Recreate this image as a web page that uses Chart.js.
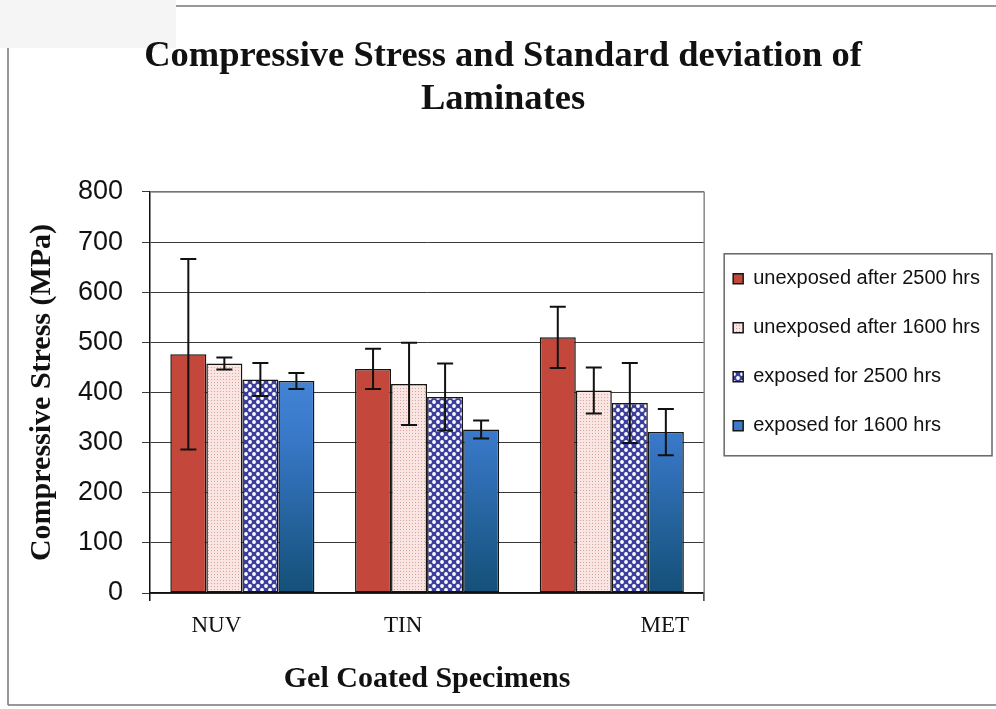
<!DOCTYPE html>
<html>
<head>
<meta charset="utf-8">
<script src="https://cdn.jsdelivr.net/npm/chart.js@4.4.0/dist/chart.umd.min.js"></script>
<style>
html,body{margin:0;padding:0;background:#fff;}
#wrap{width:996px;height:709px;position:relative;}
</style>
</head>
<body>
<div id="wrap"><canvas id="c" width="996" height="709"></canvas></div>
<script>
// ---- data ----
const categories = ['NUV', 'TIN', 'MET'];
const seriesNames = ['unexposed after 2500 hrs', 'unexposed after 1600 hrs', 'exposed for 2500 hrs', 'exposed for 1600 hrs'];
const unexposed2500 = [476, 447, 510];
const unexposed1600 = [458, 417, 404];
const exposed2500 = [426, 391, 379];
const exposed1600 = [423, 326, 321];
const unexposed2500Sd = [190, 40, 61];
const unexposed1600Sd = [12, 82, 46];
const exposed2500Sd = [33, 67, 80];
const exposed1600Sd = [16, 18, 46];
const yMin = 0, yMax = 800, yStep = 100;

// ---- styles ----
const xLabelNudge = [-26, -24, 53];
const canvas = document.getElementById('c');
const ctx0 = canvas.getContext('2d');

function pinkDots() {
  const c = document.createElement('canvas'); c.width = 3; c.height = 3;
  const g = c.getContext('2d');
  g.fillStyle = '#F9E6E2'; g.fillRect(0, 0, 3, 3);
  g.fillStyle = '#D9A3A0'; g.fillRect(1, 1, 1, 1);
  return ctx0.createPattern(c, 'repeat');
}
function checker() {
  const c = document.createElement('canvas'); c.width = 8; c.height = 8;
  const g = c.getContext('2d');
  g.fillStyle = '#3B3E9C'; g.fillRect(0, 0, 8, 8);
  g.fillStyle = '#FFFFFF';
  g.beginPath(); g.arc(2, 2, 1.9, 0, Math.PI * 2); g.fill();
  g.beginPath(); g.arc(6, 6, 1.9, 0, Math.PI * 2); g.fill();
  return ctx0.createPattern(c, 'repeat');
}
let blueGrad = null, blueKey = '';
function blueFill(context) {
  const chart = context.chart;
  const a = chart.chartArea;
  if (!a) return '#2F6DB5';
  const key = a.top + ':' + a.bottom;
  if (!blueGrad || key !== blueKey) {
    const g = chart.ctx.createLinearGradient(0, a.top + 150, 0, a.bottom);
    g.addColorStop(0, '#4A8CE0');
    g.addColorStop(0.4, '#3777C6');
    g.addColorStop(1, '#145078');
    blueGrad = g; blueKey = key;
  }
  return blueGrad;
}

const errorBars = {
  id: 'errorBars',
  afterDatasetsDraw(chart) {
    const y = chart.scales.y, ctx = chart.ctx;
    ctx.save();
    ctx.strokeStyle = '#111';
    ctx.lineWidth = 2;
    chart.data.datasets.forEach((ds, di) => {
      const meta = chart.getDatasetMeta(di);
      meta.data.forEach((bar, i) => {
        const v = ds.data[i], e = ds.errors[i];
        const yt = y.getPixelForValue(v + e), yb = y.getPixelForValue(v - e);
        const x = bar.x;
        ctx.beginPath();
        ctx.moveTo(x, yt); ctx.lineTo(x, yb);
        ctx.moveTo(x - 8, yt); ctx.lineTo(x + 8, yt);
        ctx.moveTo(x - 8, yb); ctx.lineTo(x + 8, yb);
        ctx.stroke();
      });
    });
    ctx.restore();
  }
};

const frame = {
  id: 'frame',
  beforeLayout(chart) {
    const lg = chart.legend;
    if (lg && !lg._wide) {
      const origFit = lg.fit.bind(lg);
      lg.fit = function () { this.maxWidth = Math.max(this.maxWidth, 300); origFit(); };
      lg._wide = true;
    }
  },
  beforeDraw(chart) {
    const ctx = chart.ctx;
    ctx.save();
    ctx.fillStyle = '#fff';
    ctx.fillRect(0, 0, chart.width, chart.height);
    ctx.strokeStyle = '#777';
    ctx.lineWidth = 1.5;
    ctx.beginPath();
    ctx.moveTo(80, 6); ctx.lineTo(chart.width, 6);
    ctx.moveTo(8, 10); ctx.lineTo(8, 705);
    ctx.moveTo(8, 705); ctx.lineTo(chart.width, 705);
    ctx.stroke();
    ctx.fillStyle = '#F5F5F5';
    ctx.fillRect(0, 0, 176, 48);
    ctx.restore();
    // nudge x category labels
    const s = chart.scales.x;
    const items = s.getLabelItems(chart.chartArea);
    items.forEach((it, i) => {
      if (!it._nudged) { it.options.translation[0] += xLabelNudge[i] || 0; it._nudged = true; }
    });
  },
  afterDraw(chart) {
    const ctx = chart.ctx, a = chart.chartArea;
    ctx.save();
    ctx.strokeStyle = '#888';
    ctx.lineWidth = 1.5;
    ctx.beginPath();
    ctx.moveTo(a.right, a.top); ctx.lineTo(a.right, a.bottom + 8);
    ctx.moveTo(a.left, a.top); ctx.lineTo(a.right, a.top);
    ctx.stroke();
    const hb = chart.legend.legendHitBoxes;
    if (hb && hb.length) {
      const first = hb[0], last = hb[hb.length - 1];
      const maxW = Math.max(...hb.map(h => h.width));
      ctx.strokeStyle = '#666';
      ctx.lineWidth = 1.5;
      ctx.strokeRect(first.left - 9, first.top - 15, maxW + 21, last.top + last.height + 20 - (first.top - 15));
    }
    ctx.restore();
  }
};

new Chart(canvas, {
  type: 'bar',
  data: {
    labels: categories,
    datasets: [
      { label: seriesNames[0], data: unexposed2500, errors: unexposed2500Sd, backgroundColor: '#C3473A' },
      { label: seriesNames[1], data: unexposed1600, errors: unexposed1600Sd, backgroundColor: pinkDots() },
      { label: seriesNames[2], data: exposed2500, errors: exposed2500Sd, backgroundColor: checker() },
      { label: seriesNames[3], data: exposed1600, errors: exposed1600Sd, backgroundColor: blueFill }
    ].map(d => Object.assign(d, {
      borderColor: '#151515', borderWidth: 1.5, borderSkipped: false,
      categoryPercentage: 0.78, barPercentage: 1.0
    }))
  },
  options: {
    responsive: false,
    animation: false,
    devicePixelRatio: 1,
    layout: { padding: { left: 16, right: 6, top: 7, bottom: 11.4 } },
    plugins: {
      title: {
        display: true,
        text: ['Compressive Stress and Standard deviation of', 'Laminates'],
        font: { family: 'Liberation Serif', size: 36.5, weight: 'bold', lineHeight: 1.18 },
        color: '#111',
        padding: { top: 28, bottom: 70.8 }
      },
      legend: {
        position: 'right',
        labels: {
          boxWidth: 10, boxHeight: 10, padding: 29,
          font: { family: 'Liberation Sans', size: 20 },
          color: '#111'
        }
      },
      tooltip: { enabled: false }
    },
    scales: {
      y: {
        min: yMin, max: yMax,
        ticks: { stepSize: yStep, font: { family: 'Liberation Sans', size: 27 }, color: '#111', padding: 19 },
        grid: { color: '#3a3a3a', lineWidth: 1, tickLength: 8 },
        border: { color: '#111', width: 1.5 },
        title: {
          display: true, text: 'Compressive Stress (MPa)',
          font: { family: 'Liberation Serif', size: 30, weight: 'bold' },
          color: '#111', padding: { top: 8, bottom: 0 }
        },
        afterFit(s) { s.width = 134; }
      },
      x: {
        ticks: { font: { family: 'Liberation Serif', size: 23 }, color: '#111', padding: 11 },
        grid: {
          drawOnChartArea: false, tickLength: 8, lineWidth: 1.5,
          color: c => (c.type !== 'tick' || c.index === 0) ? '#111' : 'rgba(0,0,0,0)'
        },
        border: { color: '#111', width: 1.5 },
        title: {
          display: true, text: 'Gel Coated Specimens',
          font: { family: 'Liberation Serif', size: 30, weight: 'bold' },
          color: '#111', padding: { top: 11, bottom: 0 }
        }
      }
    }
  },
  plugins: [frame, errorBars]
});
</script>
</body>
</html>
